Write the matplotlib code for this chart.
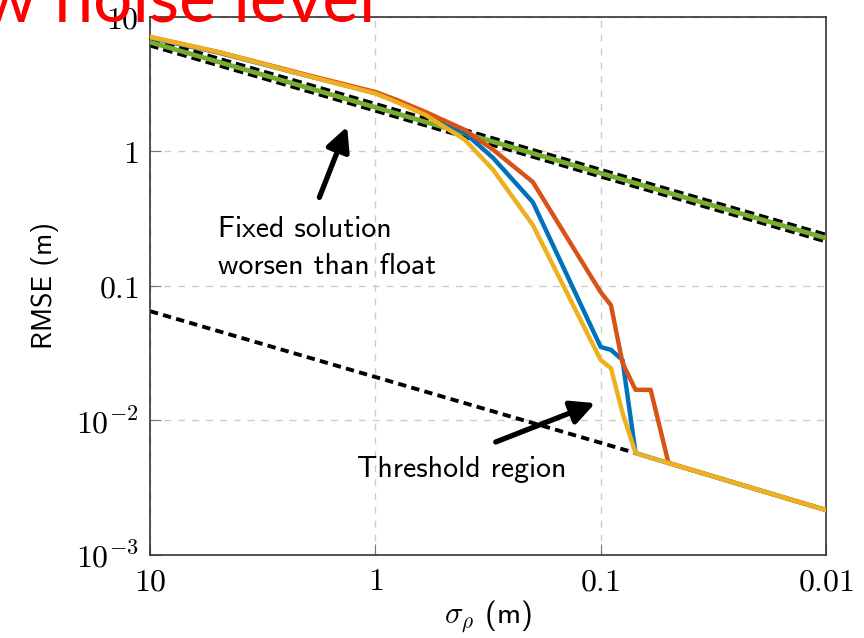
import matplotlib
matplotlib.use("Agg")
import matplotlib.pyplot as plt

plt.rcParams['mathtext.fontset'] = 'cm'
plt.rcParams['lines.scale_dashes'] = False

# sigma_rho grid (m)
sigma = [10, 5, 2, 1, 0.8, 0.6, 0.4, 0.3, 0.2, 0.1, 0.09, 0.08, 0.07, 0.06, 0.05, 0.04, 0.03, 0.02, 0.01]

# fixed solution RMSE (m), three cases
rmse_red = [7.1, 5.5, 3.7, 2.77, 2.41, 1.97, 1.445, 1.03, 0.593, 0.09, 0.072, 0.0268, 0.0169, 0.0169,
            0.00483, 0.00432, 0.00374, 0.00305, 0.00216]
rmse_blue = [7.0, 5.45, 3.65, 2.72, 2.38, 1.93, 1.37, 0.895, 0.42, 0.0352, 0.0335, 0.0282, 0.00573, 0.00529,
             0.00483, 0.00432, 0.00374, 0.00305, 0.00216]
rmse_yellow = [7.1, 5.5, 3.65, 2.7, 2.32, 1.87, 1.22, 0.73, 0.284, 0.0282, 0.0245, 0.0114, 0.00573, 0.00529,
               0.00483, 0.00432, 0.00374, 0.00305, 0.00216]

# float solution and its bound
sigma_float = [10, 1, 0.1, 0.01]
rmse_float = [6.5, 2.13, 0.69, 0.227]

# lower bound (fixed)
sigma_low = [10, 0.07]
rmse_low = [0.065, 0.00573]

xticks = [10, 1, 0.1, 0.01]
xticklabels = ['$10$', '$1$', '$0.1$', '$0.01$']
yticks = [1e-3, 1e-2, 0.1, 1, 10]
yticklabels = ['$10^{-3}$', '$10^{-2}$', '$0.1$', '$1$', '$10$']

fig = plt.figure(figsize=(8.64, 6.38), dpi=100)
ax = fig.add_axes([0.1736, 0.1301, 0.7824, 0.8433])

ax.plot(sigma_float, rmse_float, color='black', lw=7.5, dashes=(7, 3.6), zorder=2)
ax.plot(sigma_float, rmse_float, color='#77AC30', lw=3.4, zorder=3)
ax.plot(sigma_low, rmse_low, color='black', lw=2.8, dashes=(6, 3.8), zorder=2)
ax.plot(sigma, rmse_blue, color='#0072BD', lw=3.2, zorder=4)
ax.plot(sigma, rmse_red, color='#D95319', lw=3.2, zorder=4)
ax.plot(sigma, rmse_yellow, color='#EDB120', lw=3.2, zorder=5)

ax.set_xscale('log')
ax.set_yscale('log')
ax.set_xlim(10, 0.01)
ax.set_ylim(1e-3, 10)
ax.set_xticks(xticks)
ax.set_xticklabels(xticklabels)
ax.set_yticks(yticks)
ax.set_yticklabels(yticklabels)
ax.minorticks_off()
ax.tick_params(direction='in', length=8, color='#777777', labelsize=23, pad=8)
ax.grid(True, color='#cccccc', ls=(0, (5, 5)), lw=1)
for s in ax.spines.values():
    s.set_color('#333333')
    s.set_linewidth(1.2)

ax.set_ylabel('RMSE (m)', family='cmss10', fontsize=20, labelpad=12)
ax.set_xlabel(r'$\sigma_\rho$ (m)', family='cmss10', fontsize=22, labelpad=1)

ax.annotate('', xy=(1.32, 1.6), xytext=(1.79, 0.436),
            arrowprops=dict(arrowstyle='-|>', color='black', lw=3.8, mutation_scale=36))
ax.annotate('', xy=(0.103, 0.0137), xytext=(0.30, 0.0068),
            arrowprops=dict(arrowstyle='-|>', color='black', lw=3.8, mutation_scale=36))

ax.text(5.0, 0.192, 'Fixed solution\nworsen than float', family='cmss10', fontsize=21.5,
        va='center', ha='left', linespacing=1.5)
ax.text(1.2, 0.0043, 'Threshold region', family='cmss10', fontsize=21.5, va='center', ha='left')

fig.text(375 / 864, 1 - 21 / 638, 'Low noise level', color='red', family='Lato', fontsize=50,
         ha='right', va='baseline', zorder=10)

fig.savefig('out.png', dpi=100)
